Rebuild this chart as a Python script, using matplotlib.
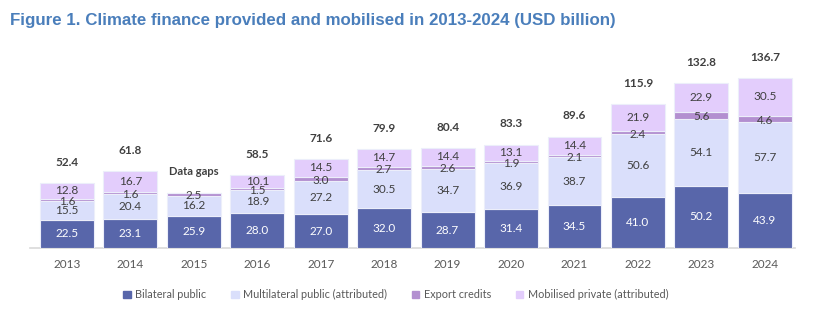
import matplotlib
matplotlib.use("Agg")
import matplotlib.pyplot as plt
import matplotlib.patches as mpatches
import numpy as np

years = ["2013", "2014", "2015", "2016", "2017", "2018", "2019", "2020",
         "2021", "2022", "2023", "2024"]
bilateral = [22.5, 23.1, 25.9, 28.0, 27.0, 32.0, 28.7, 31.4, 34.5, 41.0, 50.2, 43.9]
multilateral = [15.5, 20.4, 16.2, 18.9, 27.2, 30.5, 34.7, 36.9, 38.7, 50.6, 54.1, 57.7]
export = [1.6, 1.6, 2.5, 1.5, 3.0, 2.7, 2.6, 1.9, 2.1, 2.4, 5.6, 4.6]
private = [12.8, 16.7, 0.0, 10.1, 14.5, 14.7, 14.4, 13.1, 14.4, 21.9, 22.9, 30.5]
totals = ["52.4", "61.8", "Data gaps", "58.5", "71.6", "79.9", "80.4", "83.3",
          "89.6", "115.9", "132.8", "136.7"]
series_names = ["Bilateral public", "Multilateral public (attributed)",
                "Export credits", "Mobilised private (attributed)"]

C_BIL = "#5866AA"
C_MUL = "#DADFFB"
C_EXP = "#B38FD0"
C_PRI = "#E3CDFC"
TXT = "#404040"

plt.rcParams["font.family"] = ["Lato", "DejaVu Sans"]

fig = plt.figure(figsize=(8.21, 3.13), dpi=100)
ax = fig.add_axes([0.0367, 0.208, 0.932, 0.63])

x = np.arange(len(years))
w = 0.85
layers = [bilateral, multilateral, export, private]
colors = [C_BIL, C_MUL, C_EXP, C_PRI]
bottom = np.zeros(len(years))
for vals, col in zip(layers, colors):
    vals = np.array(vals)
    ax.bar(x, vals, w, bottom=bottom, color=col, edgecolor="#ECEEFA",
           linewidth=0.8, zorder=3)
    bottom += vals

# segment labels
fs = 8.5
for i in range(len(years)):
    b = bilateral[i]
    m = multilateral[i]
    e = export[i]
    p = private[i]
    ax.text(x[i], b / 2, f"{b:.1f}", ha="center", va="center",
            color="white", fontsize=fs)
    ax.text(x[i], b + m / 2, f"{m:.1f}", ha="center", va="center",
            color=TXT, fontsize=fs)
    ax.text(x[i], b + m + e / 2 - 1.0, f"{e:.1f}", ha="center", va="center",
            color=TXT, fontsize=fs)
    if p > 0:
        ax.text(x[i], b + m + e + p / 2 + 0.3, f"{p:.1f}", ha="center",
                va="center", color=TXT, fontsize=fs)
    ax.annotate(totals[i], (x[i], bottom[i]), xytext=(0, 11),
                textcoords="offset points", ha="center", va="bottom",
                color=TXT, fontsize=fs if i != 2 else 8,
                fontweight="bold")

ax.set_xlim(-0.58, 11.48)
ax.set_ylim(0, 159)
ax.set_yticks([])
ax.set_xticks(x)
ax.set_xticklabels(years, color="#595959", fontsize=8.5)
ax.tick_params(axis="x", length=0, pad=8)
for s in ["top", "right", "left"]:
    ax.spines[s].set_visible(False)
ax.spines["bottom"].set_color("#D9D9D9")
ax.spines["bottom"].set_linewidth(1.2)

handles = [mpatches.Patch(color=c, label=n) for c, n in zip(colors, series_names)]
leg = fig.legend(handles=handles, loc="center", bbox_to_anchor=(0.482, 0.058),
                 ncol=4, frameon=False, fontsize=7.8, handlelength=0.7,
                 handleheight=0.7, columnspacing=2.3, handletextpad=0.4)
for t in leg.get_texts():
    t.set_color("#595959")

fig.text(0.012, 0.935, "Figure 1. Climate finance provided and mobilised in 2013-2024 (USD billion)",
         color="#4A7EBB", fontsize=12.2, fontweight="bold",
         family=["Liberation Sans", "DejaVu Sans"], va="center")

fig.savefig("out.png", dpi=100)
